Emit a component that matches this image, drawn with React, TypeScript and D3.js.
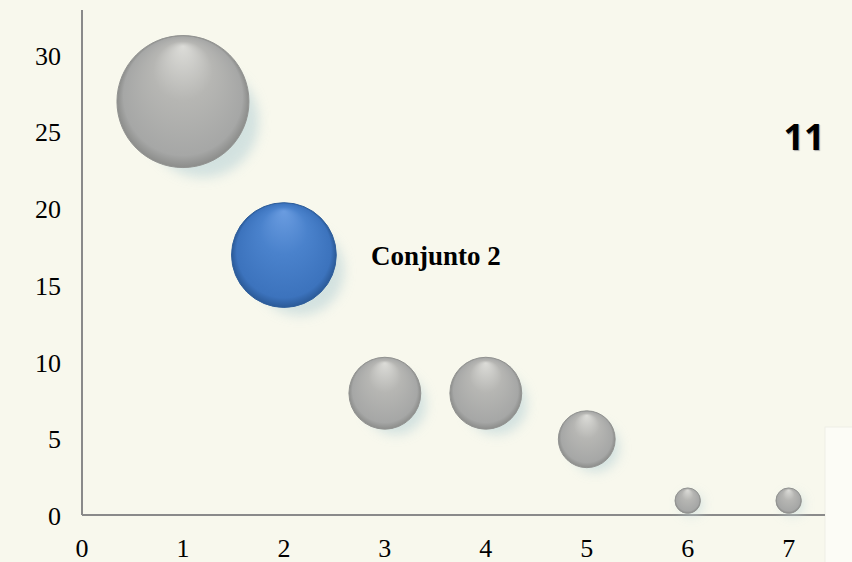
import { useEffect, useRef } from "react";
import * as d3 from "d3";

const xValues = [1, 2, 3, 4, 5, 6, 7];
const yValues = [27, 17, 8, 8, 5, 1, 1];
const sizes = [27, 17, 8, 8, 5, 1, 1];
const xTicks = [0, 1, 2, 3, 4, 5, 6, 7];
const yTicks = [0, 5, 10, 15, 20, 25, 30];
const highlightIndex = 1;
const highlightLabel = "Conjunto 2";
const cornerLabel = "11";

export default function App() {
  const ref = useRef<SVGSVGElement>(null);

  useEffect(() => {
    const width = 852;
    const height = 562;
    const marginLeft = 82;
    const axisY = 515;

    const svg = d3.select(ref.current);
    svg.selectAll("*").remove();
    svg.attr("width", width).attr("height", height)
      .style("position", "absolute").style("left", 0).style("top", 0)
      .style("background", "#f8f8ed");

    const x = d3.scaleLinear().domain([0, 7.36]).range([marginLeft, 825]);
    const y = d3.scaleLinear().domain([0, 30]).range([516, 55.5]);
    const r = d3.scaleSqrt().domain([0, 27]).range([0, 66]);

    const defs = svg.append("defs");
    const makeGrad = (id: string, light: string, mid: string, dark: string, edge: string) => {
      const g = defs.append("radialGradient").attr("id", id)
        .attr("cx", "50%").attr("cy", "50%").attr("r", "50%")
        .attr("fx", "50%").attr("fy", "8%");
      g.append("stop").attr("offset", "0%").attr("stop-color", light);
      g.append("stop").attr("offset", "45%").attr("stop-color", mid);
      g.append("stop").attr("offset", "90%").attr("stop-color", dark);
      g.append("stop").attr("offset", "100%").attr("stop-color", edge);
    };
    makeGrad("gGray", "#dcdcd8", "#b6b6b3", "#a6a7a6", "#8c8d8b");
    makeGrad("gBlue", "#6a9ce0", "#4a82cc", "#3c73bd", "#2b5a98");

    const blur = defs.append("filter").attr("id", "shadow")
      .attr("x", "-50%").attr("y", "-50%").attr("width", "200%").attr("height", "200%");
    blur.append("feGaussianBlur").attr("stdDeviation", 6);

    // faint box at bottom right
    svg.append("rect").attr("x", 825).attr("y", 427).attr("width", 40).attr("height", 150)
      .attr("fill", "#fcfcf6").attr("stroke", "#eeeee6");

    // axes
    svg.append("line").attr("x1", x(0)).attr("x2", x(0)).attr("y1", 10).attr("y2", axisY)
      .attr("stroke", "#8a8a8a").attr("stroke-width", 2);
    svg.append("line").attr("x1", x(0)).attr("x2", 825).attr("y1", axisY).attr("y2", axisY)
      .attr("stroke", "#8a8a8a").attr("stroke-width", 2);

    const font = "'Liberation Serif', 'Times New Roman', serif";
    svg.append("g").selectAll("text").data(yTicks).join("text")
      .attr("x", 61).attr("y", d => y(d)).attr("dy", "0.35em")
      .attr("text-anchor", "end").attr("font-family", font).attr("font-size", 26)
      .text(d => d);
    svg.append("g").selectAll("text").data(xTicks).join("text")
      .attr("x", d => x(d)).attr("y", 548).attr("dy", "0.35em")
      .attr("text-anchor", "middle").attr("font-family", font).attr("font-size", 26)
      .text(d => d);

    const data = xValues.map((v, i) => ({ x: v, y: yValues[i], s: sizes[i], i }));
    const bubbles = svg.append("g");
    bubbles.selectAll("circle.sh").data(data).join("circle")
      .attr("class", "sh")
      .attr("cx", d => x(d.x) + r(d.s) * 0.3)
      .attr("cy", d => y(d.y) + r(d.s) * 0.3)
      .attr("r", d => r(d.s) * 0.85)
      .attr("fill", "#c6dadb").attr("opacity", 0.75)
      .attr("filter", "url(#shadow)");
    bubbles.selectAll("circle.b").data(data).join("circle")
      .attr("class", "b")
      .attr("cx", d => x(d.x)).attr("cy", d => y(d.y)).attr("r", d => r(d.s))
      .attr("fill", d => d.i === highlightIndex ? "url(#gBlue)" : "url(#gGray)")
      .attr("stroke", d => d.i === highlightIndex ? "#2f5f9c" : "#929391")
      .attr("stroke-width", 1);

    const hd = data[highlightIndex];
    svg.append("text").attr("x", x(hd.x) + 87).attr("y", y(hd.y)).attr("dy", "0.35em")
      .attr("font-family", font).attr("font-weight", "bold").attr("font-size", 27)
      .text(highlightLabel);

    svg.append("text").attr("x", 804).attr("y", 137).attr("dy", "0.35em")
      .attr("text-anchor", "middle").attr("font-family", "'Open Sans', sans-serif")
      .attr("font-weight", "bold").attr("font-size", 36)
      .style("text-shadow", "1px 1px 1px #aaa")
      .text(cornerLabel);
  }, []);

  return <svg ref={ref}></svg>;
}
